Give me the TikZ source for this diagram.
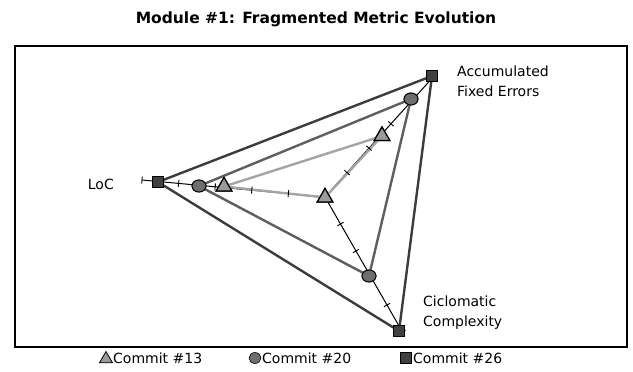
\documentclass[tikz,border=0pt]{standalone}
\usepackage{fontspec}
\setmainfont{DejaVu Sans}
\usetikzlibrary{calc,shapes.geometric}
\definecolor{sqfill}{HTML}{404040}
\definecolor{cifill}{HTML}{6E6E6E}
\definecolor{trfill}{HTML}{9A9A9A}
\definecolor{sqline}{HTML}{3C3C3C}
\definecolor{ciline}{HTML}{5E5E5E}
\definecolor{trline}{HTML}{A4A4A4}
\tikzset{
  axisline/.style={black, line width=1pt},
  tickmark/.style={black, line width=0.9pt},
  ser26/.style={sqline, line width=2.4pt},
  ser20/.style={ciline, line width=2.4pt},
  ser13/.style={trline, line width=2.4pt},
  sqmark/.style={draw=black, fill=sqfill, line width=0.9pt, rectangle, minimum size=11pt, inner sep=0pt},
  cimark/.style={draw=black, fill=cifill, line width=0.9pt, ellipse, minimum width=14pt, minimum height=12pt, inner sep=0pt},
  trmark/.style={draw=black, fill=trfill, line width=1.2pt, regular polygon, regular polygon sides=3, minimum size=18pt, inner sep=0pt},
  sqleg/.style={sqmark, minimum size=11pt, line width=0.6pt},
  cileg/.style={cimark, minimum width=12pt, minimum height=11pt, line width=0.6pt},
  trleg/.style={trmark, minimum size=15pt, line width=0.8pt},
  lbl/.style={font=\fontsize{14}{20}\selectfont, inner sep=0pt, align=left},
}
\begin{document}
\begin{tikzpicture}[x=1pt,y=-1pt]
\useasboundingbox (0,0) rectangle (633,372);
\node[font=\fontsize{15.5}{18}\selectfont\bfseries, inner sep=0pt] (title) at (316,19) {Module \#1: Fragmented Metric Evolution};
\draw[black, line width=1.4pt] (15,46) rectangle (627,347);
% axes
\coordinate (C) at (325,197);
\coordinate (L5) at (142,180);
\coordinate (A5) at (435,75);
\coordinate (K5) at (402.5,332);
\draw[axisline] (C) -- (L5);
\draw[axisline] (C) -- (A5);
\draw[axisline] (C) -- (K5);
% markers positions
\node[sqmark] (s26L) at (158,182) {};
\node[sqmark] (s26A) at (432,76) {};
\node[sqmark] (s26K) at (399,331) {};
\node[cimark] (c20L) at (199,186) {};
\node[cimark] (c20A) at (411,99) {};
\node[cimark] (c20K) at (369,276) {};
\node[trmark] (t13L) at (224,186.5) {};
\node[trmark] (t13A) at (382,136) {};
\node[trmark] (t13K) at (325,197.5) {};
% series lines
\draw[ser26] (s26L.center) -- (s26A.center) -- (s26K.center) -- cycle;
\draw[ser20] (c20L.center) -- (c20A.center) -- (c20K.center) -- cycle;
\draw[ser13] (t13L.center) -- (t13A.center) -- (t13K.center) -- cycle;
% ticks
\foreach \e in {L5,A5,K5}{
  \foreach \k in {1,...,5}{
    \coordinate (P) at ($(C)!\k/5!(\e)$);
    \draw[tickmark] ($(P)!3.5pt!90:(C)$) -- ($(P)!3.5pt!-90:(C)$);
  }
}
% redraw markers on top
\node[sqmark] at (s26L) {};
\node[sqmark] at (s26A) {};
\node[sqmark] at (s26K) {};
\node[cimark] at (c20L) {};
\node[cimark] at (c20A) {};
\node[cimark] at (c20K) {};
\node[trmark] at (t13L) {};
\node[trmark] at (t13A) {};
\node[trmark] at (t13K) {};
% axis labels
\node[lbl, anchor=east] (lLoC) at (114,184) {LoC};
\node[lbl, anchor=north west] (lAFE) at (457,66) {Accumulated\\Fixed Errors};
\node[lbl, anchor=north west] (lCC) at (423,296) {Ciclomatic\\Complexity};
% legend
\node[trleg] (g13) at (106,359) {};
\node[lbl, anchor=west] (tg13) at (113,358) {Commit \#13};
\node[cileg] (g20) at (255,358) {};
\node[lbl, anchor=west] (tg20) at (262,358) {Commit \#20};
\node[sqleg] (g26) at (406,358) {};
\node[lbl, anchor=west] (tg26) at (413,358) {Commit \#26};
\end{tikzpicture}
\end{document}
